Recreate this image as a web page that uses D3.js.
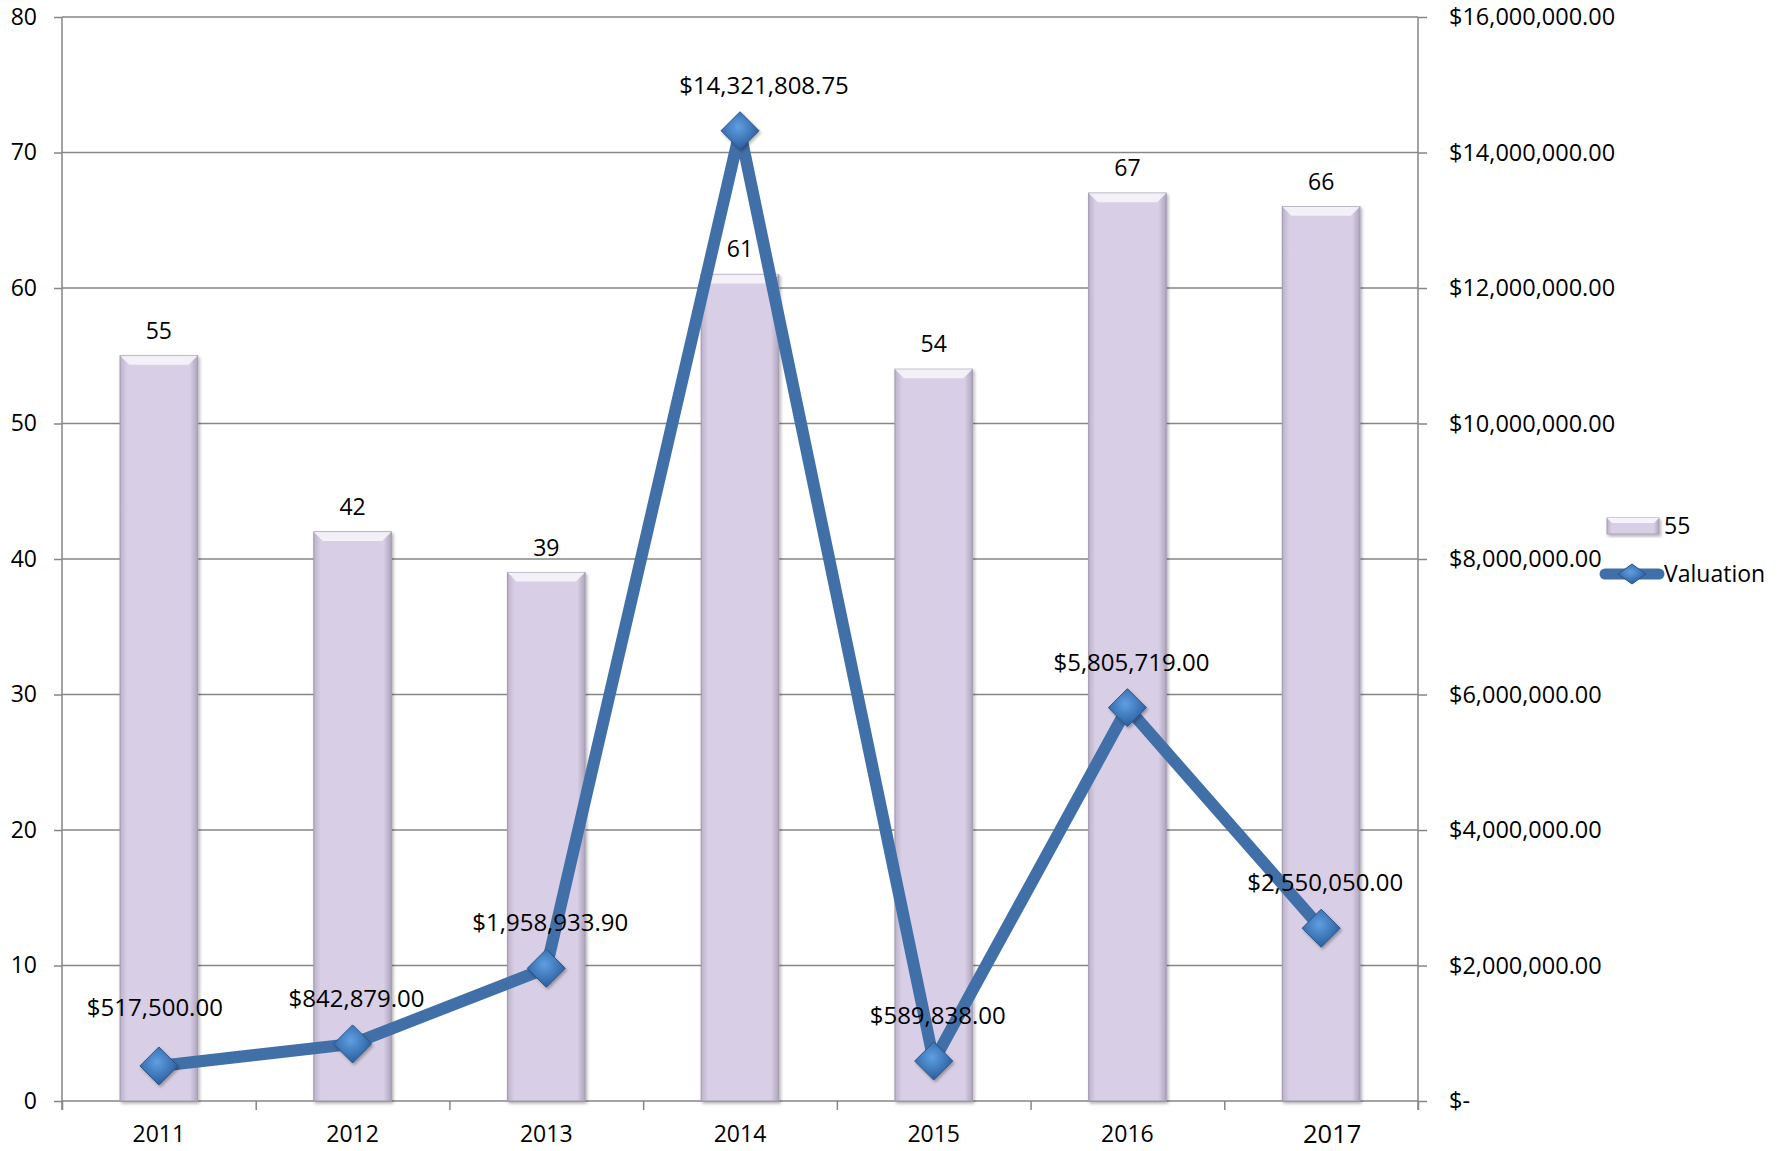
<!DOCTYPE html>
<html>
<head>
<meta charset="utf-8">
<script src="https://cdn.jsdelivr.net/npm/d3@7"></script>
<style>
  body { margin: 0; background: #fff; }
  text { font-family: "Open Sans", Lato, sans-serif; fill: #000; }
</style>
</head>
<body>
<script>
// chart values
const years = ["2011", "2012", "2013", "2014", "2015", "2016", "2017"];
const counts = [55, 42, 39, 61, 54, 67, 66];
const valuations = [517500, 842879, 1958933.90, 14321808.75, 589838, 5805719, 2550050];
const countTicks = [0, 10, 20, 30, 40, 50, 60, 70, 80];
const valuationTicks = [0, 2e6, 4e6, 6e6, 8e6, 10e6, 12e6, 14e6, 16e6];
const legendLabels = ["55", "Valuation"];

const W = 1782, H = 1151;
const plot = {left: 62, right: 1418, top: 17, bottom: 1101};

const svg = d3.select("body").append("svg")
    .attr("width", W)
    .attr("height", H);

svg.append("rect").attr("width", W).attr("height", H).attr("fill", "#fff");

const defs = svg.append("defs");

const barGrad = defs.append("linearGradient").attr("id", "barGrad")
    .attr("x1", "0%").attr("x2", "100%").attr("y1", "0%").attr("y2", "0%");
barGrad.append("stop").attr("offset", "0%").attr("stop-color", "#bcb2ca");
barGrad.append("stop").attr("offset", "9%").attr("stop-color", "#d8cfe6");
barGrad.append("stop").attr("offset", "90%").attr("stop-color", "#d8cfe6");
barGrad.append("stop").attr("offset", "100%").attr("stop-color", "#aea4bc");

const dotGrad = defs.append("radialGradient").attr("id", "dotGrad")
    .attr("cx", "45%").attr("cy", "40%").attr("r", "60%");
dotGrad.append("stop").attr("offset", "0%").attr("stop-color", "#5f9fe2");
dotGrad.append("stop").attr("offset", "100%").attr("stop-color", "#2a5d9c");

const shadow = defs.append("filter").attr("id", "shadow")
    .attr("x", "-20%").attr("y", "-20%").attr("width", "140%").attr("height", "140%");
shadow.append("feDropShadow").attr("dx", 1.5).attr("dy", 2).attr("stdDeviation", 1.5)
    .attr("flood-color", "#000").attr("flood-opacity", 0.3);

// scales
const x = d3.scaleBand()
    .domain(years)
    .range([plot.left, plot.right])
    .paddingInner(0.6)
    .paddingOuter(0.3);

const xEdge = d3.scaleLinear()
    .domain([0, years.length])
    .range([plot.left, plot.right]);

const yLeft = d3.scaleLinear()
    .domain([0, 80])
    .range([plot.bottom, plot.top]);

const yRight = d3.scaleLinear()
    .domain([0, 16e6])
    .range([plot.bottom, plot.top]);

const gridColor = "#868686";

// gridlines
svg.append("g")
    .selectAll("line")
    .data(countTicks)
    .join("line")
    .attr("x1", plot.left)
    .attr("x2", plot.right)
    .attr("y1", d => yLeft(d))
    .attr("y2", d => yLeft(d))
    .attr("stroke", gridColor)
    .attr("stroke-width", 1.5);

// left axis
const leftAxis = svg.append("g")
    .attr("transform", "translate(" + plot.left + ",0)")
    .call(d3.axisLeft(yLeft).tickValues(countTicks).tickSize(8).tickSizeOuter(0).tickPadding(17));
leftAxis.select(".domain").remove();
leftAxis.selectAll("line").attr("stroke", gridColor).attr("stroke-width", 1.5);
leftAxis.selectAll("text").style("font-size", "23px").style("font-family", "Open Sans");

svg.append("line")
    .attr("x1", plot.left).attr("x2", plot.left)
    .attr("y1", plot.top).attr("y2", plot.bottom + 9)
    .attr("stroke", gridColor).attr("stroke-width", 1.5);

// right axis
const moneyFmt = d3.format("$,.2f");
const rightAxis = svg.append("g")
    .attr("transform", "translate(" + plot.right + ",0)")
    .call(d3.axisRight(yRight).tickValues(valuationTicks).tickSize(9).tickSizeOuter(0).tickPadding(22)
        .tickFormat(d => d === 0 ? "$-" : moneyFmt(d)));
rightAxis.select(".domain").remove();
rightAxis.selectAll("line").attr("stroke", gridColor).attr("stroke-width", 1.5);
rightAxis.selectAll("text").style("font-size", "23.5px").style("font-family", "Open Sans");

svg.append("line")
    .attr("x1", plot.right).attr("x2", plot.right)
    .attr("y1", plot.top).attr("y2", plot.bottom + 9)
    .attr("stroke", gridColor).attr("stroke-width", 1.5);

// bottom axis ticks at category edges
const bottomAxis = svg.append("g")
    .attr("transform", "translate(0," + plot.bottom + ")")
    .call(d3.axisBottom(xEdge).ticks(years.length).tickSize(9).tickSizeOuter(0).tickFormat(""));
bottomAxis.select(".domain").remove();
bottomAxis.selectAll("line").attr("stroke", gridColor).attr("stroke-width", 1.5);

// category labels (the last one is bigger and nudged in the original)
const isLast = i => i === years.length - 1;
svg.append("g")
    .selectAll("text")
    .data(years)
    .join("text")
    .attr("x", (d, i) => x(d) + x.bandwidth() / 2 + (isLast(i) ? 11 : 0))
    .attr("y", (d, i) => plot.bottom + (isLast(i) ? 42 : 41))
    .attr("text-anchor", "middle")
    .style("font-size", (d, i) => isLast(i) ? "25.5px" : "23px")
    .text(d => d);

// bars
const bars = svg.append("g")
    .selectAll("g")
    .data(counts)
    .join("g")
    .attr("filter", "url(#shadow)");

bars.append("rect")
    .attr("x", (d, i) => x(years[i]))
    .attr("y", d => yLeft(d))
    .attr("width", x.bandwidth())
    .attr("height", d => yLeft(0) - yLeft(d))
    .attr("fill", "url(#barGrad)")
    .attr("stroke", "#a69db3")
    .attr("stroke-width", 1.2);

const bev = 9;
bars.append("path")
    .attr("d", (d, i) => {
        const x0 = x(years[i]), x1 = x0 + x.bandwidth(), t = yLeft(d);
        return "M" + x0 + "," + t + "L" + x1 + "," + t + "L" + (x1 - bev) + "," + (t + bev)
            + "L" + (x0 + bev) + "," + (t + bev) + "Z";
    })
    .attr("fill", "#f6f3fa")
    .attr("opacity", 0.9);

// bar value labels
svg.append("g")
    .selectAll("text")
    .data(counts)
    .join("text")
    .attr("x", (d, i) => x(years[i]) + x.bandwidth() / 2)
    .attr("y", d => yLeft(d) - 17)
    .attr("text-anchor", "middle")
    .style("font-size", "23px")
    .text(d => d);

// valuation line
const cx = i => x(years[i]) + x.bandwidth() / 2;
const lineColor = "#4170a8";

svg.append("path")
    .datum(valuations)
    .attr("fill", "none")
    .attr("stroke", lineColor)
    .attr("stroke-width", 12)
    .attr("stroke-linejoin", "miter")
    .attr("d", d3.line()
        .x((d, i) => cx(i))
        .y(d => yRight(d)));

const diamond = "M0,-19L19,0L0,19L-19,0Z";
svg.append("g")
    .selectAll("path")
    .data(valuations)
    .join("path")
    .attr("d", diamond)
    .attr("transform", (d, i) => "translate(" + cx(i) + "," + yRight(d) + ")")
    .attr("fill", "url(#dotGrad)")
    .attr("stroke", "#2c5586")
    .attr("stroke-width", 1)
    .attr("filter", "url(#shadow)");

// valuation labels, a couple were dragged a bit in the original
const labelDx = i => i === 3 ? 24 : (i === 0 ? -4 : 4);
svg.append("g")
    .selectAll("text")
    .data(valuations)
    .join("text")
    .attr("x", (d, i) => cx(i) + labelDx(i))
    .attr("y", (d, i) => yRight(d) - (i === 0 ? 50 : 37))
    .attr("text-anchor", "middle")
    .style("font-size", "24px")
    .text(d => moneyFmt(d));

// legend
const legend = svg.append("g");

legend.append("rect")
    .attr("x", 1607).attr("y", 518)
    .attr("width", 52).attr("height", 16)
    .attr("fill", "url(#barGrad)")
    .attr("stroke", "#a69db3")
    .attr("filter", "url(#shadow)");
legend.append("path")
    .attr("d", "M1607,518L1659,518L1654,523L1612,523Z")
    .attr("fill", "#f6f3fa");
legend.append("text")
    .attr("x", 1664).attr("y", 534)
    .style("font-size", "23px")
    .text(legendLabels[0]);

legend.append("line")
    .attr("x1", 1605).attr("x2", 1659)
    .attr("y1", 574).attr("y2", 574)
    .attr("stroke", lineColor)
    .attr("stroke-width", 11)
    .attr("stroke-linecap", "round");
legend.append("path")
    .attr("d", "M0,-10L14,0L0,10L-14,0Z")
    .attr("transform", "translate(1632,574)")
    .attr("fill", "url(#dotGrad)")
    .attr("stroke", "#2c5586");
legend.append("text")
    .attr("x", 1664).attr("y", 582)
    .style("font-size", "23px")
    .text(legendLabels[1]);
</script>
</body>
</html>
